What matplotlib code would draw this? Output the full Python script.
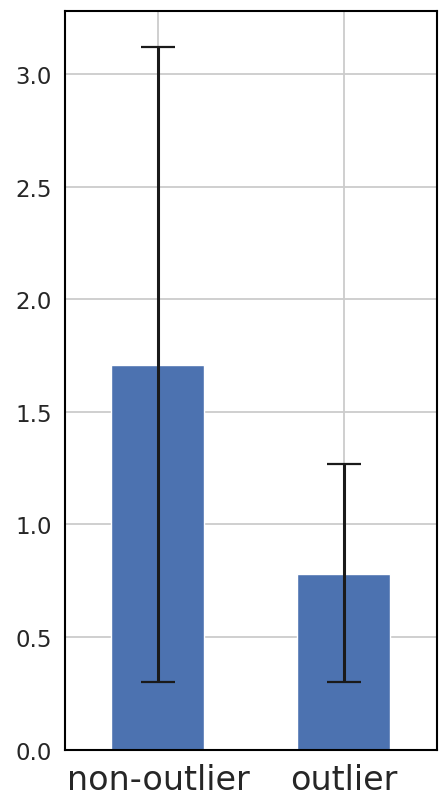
import numpy as np
import pandas as pd
import matplotlib
matplotlib.use("Agg")
import matplotlib.pyplot as plt
import seaborn as sns

sns.set_theme(style="whitegrid")

groups = ["non-outlier", "outlier"]
means = [1.71, 0.78]
err_low = [1.41, 0.48]
err_high = [1.41, 0.49]

df = pd.DataFrame({"value": means}, index=groups)

fig = plt.figure(figsize=(4.48, 8.12), dpi=100)
ax = fig.add_axes([0.145, 0.0757, 0.83, 0.9095])

df["value"].plot.bar(ax=ax, yerr=[err_low, err_high], rot=0, color="#4C72B0",
                     error_kw=dict(ecolor="#1a1a1a", elinewidth=2.2,
                                   capsize=12, capthick=1.6))

ax.set_ylim(0, 3.28)
ax.set_xlim(-0.5, 1.5)
ax.set_yticks(np.arange(0, 3.01, 0.5))
ax.tick_params(axis="y", labelsize=16.5)
ax.tick_params(axis="x", labelsize=24)
ax.grid(True, axis="both", color="#cccccc", linewidth=1.3)
ax.set_axisbelow(True)
for s in ax.spines.values():
    s.set_color("black")
    s.set_linewidth(1.5)

fig.savefig("out.png", dpi=100)
